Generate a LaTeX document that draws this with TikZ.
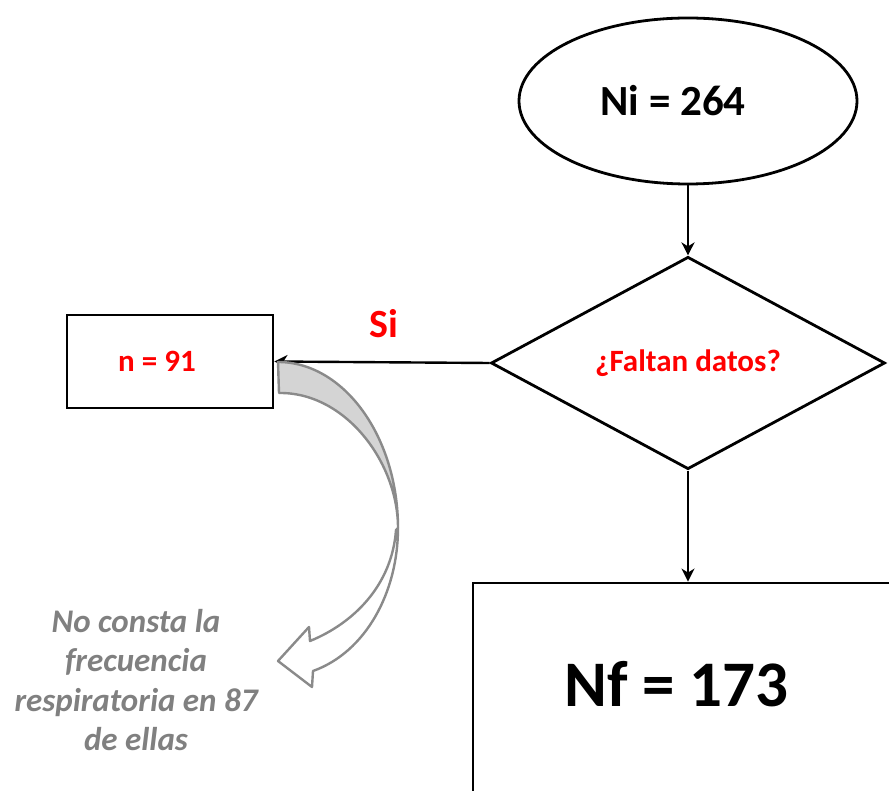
\documentclass[tikz,border=0pt]{standalone}
\usepackage{fontspec}
\setmainfont{Carlito}
\usetikzlibrary{shapes.geometric,arrows.meta}
\definecolor{redtxt}{RGB}{255,0,0}
\definecolor{greytxt}{RGB}{128,128,128}
\definecolor{arrowline}{RGB}{138,138,138}
\definecolor{arrowfill}{RGB}{212,212,212}
\tikzset{
  shapeline/.style={draw=black, line width=2.8pt, inner sep=0pt},
  conn/.style={draw=black, line width=2.4pt, -{Stealth[length=13pt,width=13pt,inset=4pt]}},
  bigtxt/.style={font=\fontsize{43}{50}\selectfont\bfseries},
  redlbl/.style={text=redtxt, font=\fontsize{31}{36}\selectfont\bfseries},
  curved/.style={draw=arrowline, line width=2.4pt, line join=round}
}
\begin{document}
\begin{tikzpicture}[x=1pt,y=-1pt]
\clip (0,0) rectangle (889,791);
\useasboundingbox (0,0) rectangle (889,791);

% nodes
\node[shapeline, ellipse, minimum width=338pt, minimum height=166pt, bigtxt] (ni) at (688,101) {Ni = 264\hspace*{30pt}};
\node[shapeline, diamond, minimum width=394pt, minimum height=206pt, redlbl] (q) at (688,363) {¿Faltan datos?};
\node[shapeline, rectangle, minimum width=206pt, minimum height=93pt, redlbl] (n) at (170,361.5) {n = 91\hspace*{26pt}};
\node[shapeline, rectangle, minimum width=430pt, minimum height=248pt] (nfbox) at (688,707) {};
\node[font=\fontsize{65}{72}\selectfont\bfseries] (nf) at (676.5,684) {Nf = 173};
\node[text=redtxt, font=\fontsize{40}{46}\selectfont\bfseries] (si) at (384,324) {Si};
\node[text=greytxt, align=center, font=\fontsize{33}{39.5}\selectfont\bfseries\itshape] (note) at (136,680)
  {No consta la\\frecuencia\\respiratoria en 87\\de ellas};

% connectors
\draw[conn] (ni.south) -- (q.north);
\draw[conn] (q.west) -- (n.east);
\draw[conn] (q.south) -- (nfbox.north);

% curved block arrow (back part)
\path[curved, fill=arrowfill]
  (278,362) .. controls (344,362) and (398,437) .. (398,528)
  .. controls (398,462) and (345,392) .. (279,393) -- cycle;
% curved block arrow (front part with head)
\path[curved, fill=white]
  (398,528) .. controls (398,592) and (366,652) .. (313,671)
  -- (312,687) -- (278,661) -- (309,627) -- (310,641)
  .. controls (354,623) and (392,585) .. (396,530) -- cycle;
\end{tikzpicture}
\end{document}
